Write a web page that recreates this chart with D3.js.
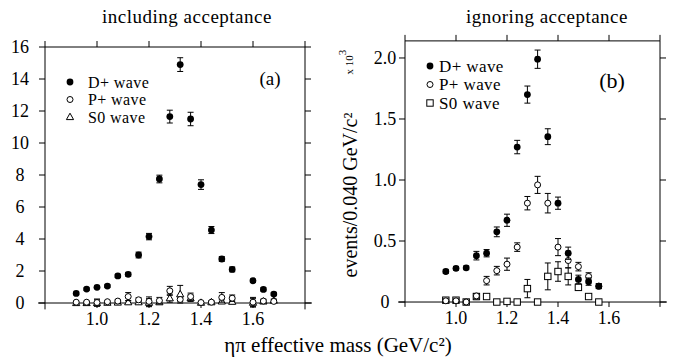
<!DOCTYPE html>
<html>
<head>
<meta charset="utf-8">
<script src="https://cdn.jsdelivr.net/npm/d3@7"></script>
<style>
  body { margin: 0; background: #fff; }
</style>
</head>
<body>
<svg id="chart" width="673" height="360" font-family="'Liberation Serif', 'DejaVu Serif', 'Times New Roman', serif"></svg>
<script>
// panel (a): including acceptance
const massA = [0.92, 0.96, 1.00, 1.04, 1.08, 1.12, 1.16, 1.20, 1.24, 1.28, 1.32, 1.36, 1.40, 1.44, 1.48, 1.52, 1.60, 1.64, 1.68];
const dWaveA = [0.60, 0.87, 0.98, 1.06, 1.69, 1.79, 3.00, 4.15, 7.75, 11.65, 14.90, 11.50, 7.40, 4.56, 2.75, 2.10, 1.39, 0.85, 0.56];
const dErrA = [0.08, 0.08, 0.08, 0.08, 0.10, 0.12, 0.18, 0.20, 0.24, 0.40, 0.43, 0.42, 0.30, 0.22, 0.15, 0.15, 0.10, 0.10, 0.10];
const pWaveA = [0.05, 0.05, 0.03, 0.08, 0.12, 0.40, 0.20, 0.10, 0.15, 0.76, 0.22, 0.40, 0.03, 0.05, 0.35, 0.30, 0.05, 0.12, 0.10];
const pErrA = [0.05, 0.05, 0.22, 0.05, 0.08, 0.25, 0.12, 0.28, 0.20, 0.28, 0.10, 0.22, 0.05, 0.08, 0.30, 0.20, 0.30, 0.12, 0.10];
const sWaveA = [0.00, 0.00, 0.00, 0.02, 0.03, 0.05, 0.05, 0.02, 0.05, 0.30, 0.55, 0.30, 0.02, 0.05, 0.10, 0.08, 0.02, 0.10, 0.15];
const sErrA = [0.03, 0.03, 0.20, 0.05, 0.05, 0.08, 0.08, 0.25, 0.10, 0.25, 0.55, 0.20, 0.05, 0.05, 0.10, 0.10, 0.25, 0.10, 0.10];

// panel (b): ignoring acceptance (x 10^3)
const massB = [0.96, 1.00, 1.04, 1.08, 1.12, 1.16, 1.20, 1.24, 1.28, 1.32, 1.36, 1.40, 1.44, 1.48, 1.52, 1.56];
const dWaveB = [0.25, 0.276, 0.28, 0.38, 0.40, 0.575, 0.67, 1.27, 1.70, 1.99, 1.355, 0.81, 0.40, 0.185, 0.167, 0.13];
const dErrB = [0.015, 0.015, 0.015, 0.035, 0.03, 0.04, 0.05, 0.055, 0.07, 0.075, 0.065, 0.05, 0.05, 0.035, 0.03, 0.02];
const pWaveB = [0.01, 0.01, 0.00, 0.05, 0.175, 0.257, 0.31, 0.45, 0.81, 0.96, 0.81, 0.45, 0.34, 0.29, 0.21, 0.13];
const pErrB = [0.015, 0.015, 0.01, 0.02, 0.035, 0.035, 0.05, 0.035, 0.055, 0.07, 0.08, 0.07, 0.06, 0.035, 0.03, 0.02];
const sWaveB = [0.015, 0.015, 0.00, 0.045, 0.045, 0.00, 0.005, 0.00, 0.11, 0.00, 0.21, 0.25, 0.21, 0.12, 0.045, 0.00];
const sErrB = [0.01, 0.01, 0.005, 0.025, 0.01, 0.005, 0.01, 0.005, 0.075, 0.005, 0.11, 0.08, 0.07, 0.02, 0.01, 0.005];

const xTicks = [0.8, 1.0, 1.2, 1.4, 1.6, 1.8];
const xLabelTicks = [1.0, 1.2, 1.4, 1.6];
const yTicksA = [0, 2, 4, 6, 8, 10, 12, 14, 16];
const yTicksB = [0, 0.5, 1.0, 1.5, 2.0];
const legendNames = ["D+ wave", "P+ wave", "S0 wave"];

const svg = d3.select("#chart");
const tick = 6;

const zip = (m, v, e) => m.map((x, i) => ({x: x, y: v[i], e: e[i]}));

const drawSymbol = (g, type, cx, cy) => {
    if (type === "filled") {
        g.append("circle").attr("cx", cx).attr("cy", cy).attr("r", 3.4)
            .attr("fill", "#000");
    } else if (type === "circle") {
        g.append("circle").attr("cx", cx).attr("cy", cy).attr("r", 3)
            .attr("fill", "#fff").attr("stroke", "#000").attr("stroke-width", 1);
    } else if (type === "square") {
        g.append("rect").attr("x", cx - 3.2).attr("y", cy - 3.2)
            .attr("width", 6.4).attr("height", 6.4)
            .attr("fill", "#fff").attr("stroke", "#000").attr("stroke-width", 1);
    } else {
        g.append("path")
            .attr("d", `M${cx},${cy - 3.8}L${cx + 3.6},${cy + 2.6}L${cx - 3.6},${cy + 2.6}Z`)
            .attr("fill", "#fff").attr("stroke", "#000").attr("stroke-width", 1);
    }
};

const addSeries = (g, data, x, y, type) => {
    const s = g.append("g");
    data.forEach(d => {
        const cx = x(d.x), y1 = y(d.y - d.e), y2 = y(d.y + d.e);
        s.append("line").attr("x1", cx).attr("x2", cx).attr("y1", y1).attr("y2", y2)
            .attr("stroke", "#000").attr("stroke-width", 1);
        [y1, y2].forEach(yy => s.append("line")
            .attr("x1", cx - 3).attr("x2", cx + 3).attr("y1", yy).attr("y2", yy)
            .attr("stroke", "#000").attr("stroke-width", 1));
    });
    data.forEach(d => drawSymbol(s, type, x(d.x), y(d.y)));
};

const drawPanel = (opt) => {
    const x = d3.scaleLinear().domain([0.8, 1.8]).range([opt.left, opt.right]);
    const y = d3.scaleLinear().domain(opt.yDomain).range(opt.yRange);
    const g = svg.append("g");
    const top = y(opt.yDomain[1]), bottom = y(opt.yDomain[0]);

    // frame (no bottom edge)
    g.append("path")
        .attr("d", `M${opt.left},${bottom}V${top}H${opt.right}V${bottom}`)
        .attr("fill", "none").attr("stroke", "#000").attr("stroke-width", 1);

    // zero line
    g.append("line").attr("x1", opt.left - 7).attr("x2", opt.right + 7)
        .attr("y1", y(0)).attr("y2", y(0)).attr("stroke", "#000").attr("stroke-width", 1);

    // ticks
    xTicks.forEach(t => g.append("line").attr("x1", x(t)).attr("x2", x(t))
        .attr("y1", top).attr("y2", top - tick).attr("stroke", "#000"));
    xLabelTicks.forEach(t => g.append("line").attr("x1", x(t)).attr("x2", x(t))
        .attr("y1", y(0)).attr("y2", y(0) + 5).attr("stroke", "#000"));
    opt.yTicks.forEach(t => {
        g.append("line").attr("x1", opt.left - tick).attr("x2", opt.left)
            .attr("y1", y(t)).attr("y2", y(t)).attr("stroke", "#000");
        g.append("line").attr("x1", opt.right).attr("x2", opt.right + tick)
            .attr("y1", y(t)).attr("y2", y(t)).attr("stroke", "#000");
        g.append("text").attr("x", opt.yLabelX).attr("y", y(t)).attr("dy", "0.35em")
            .attr("text-anchor", "middle").attr("font-size", 18)
            .text(opt.yFormat(t));
    });
    xLabelTicks.forEach(t => g.append("text").attr("x", x(t)).attr("y", y(0) + 22)
        .attr("text-anchor", "middle").attr("font-size", 18).text(d3.format(".1f")(t)));

    // title and panel tag
    g.append("text").attr("x", opt.titleX).attr("y", 23).attr("text-anchor", "middle")
        .attr("font-size", 19).attr("letter-spacing", 0.5).text(opt.title);
    g.append("text").attr("x", opt.tagX).attr("y", opt.tagY).attr("text-anchor", "middle")
        .attr("font-size", opt.tagSize).text(opt.tag);

    // data
    addSeries(g, zip(opt.mass, opt.s, opt.sErr), x, y, opt.sType);
    addSeries(g, zip(opt.mass, opt.p, opt.pErr), x, y, "circle");
    addSeries(g, zip(opt.mass, opt.d, opt.dErr), x, y, "filled");

    // legend
    const types = ["filled", "circle", opt.sType];
    legendNames.forEach((name, i) => {
        const ly = opt.legY + i * opt.legStep;
        drawSymbol(g, types[i], opt.legX, ly);
        g.append("text").attr("x", opt.legX + opt.legGap).attr("y", ly).attr("dy", "0.35em")
            .attr("font-size", opt.legSize).attr("letter-spacing", 0.4).text(name);
    });
};

drawPanel({
    left: 45, right: 305, yDomain: [-0.4, 16], yRange: [309.4, 47],
    yTicks: yTicksA, yFormat: d3.format("d"), yLabelX: 20,
    title: "including acceptance", titleX: 187, tag: "(a)", tagX: 270, tagY: 85, tagSize: 19,
    mass: massA, d: dWaveA, dErr: dErrA, p: pWaveA, pErr: pErrA, s: sWaveA, sErr: sErrA,
    sType: "triangle", legX: 70, legY: 82, legStep: 17.5, legSize: 16, legGap: 18
});

drawPanel({
    left: 405, right: 660, yDomain: [-0.04, 2.14], yRange: [306.9, 40.9],
    yTicks: yTicksB, yFormat: t => t === 0 ? "0" : d3.format(".1f")(t), yLabelX: 385,
    title: "ignoring acceptance", titleX: 547, tag: "(b)", tagX: 612, tagY: 88, tagSize: 22,
    mass: massB, d: dWaveB, dErr: dErrB, p: pWaveB, pErr: pErrB, s: sWaveB, sErr: sErrB,
    sType: "square", legX: 430, legY: 66, legStep: 18.5, legSize: 17, legGap: 9
});

// axis titles
svg.append("text").attr("transform", "translate(357,195) rotate(-90)")
    .attr("text-anchor", "middle").attr("font-size", 20).text("events/0.040 GeV/c²");
const mult = svg.append("text").attr("transform", "translate(353,62) rotate(-90)")
    .attr("text-anchor", "middle").attr("font-size", 11);
mult.append("tspan").text("x 10");
mult.append("tspan").attr("dy", -7).text("3");

svg.append("text").attr("x", 338).attr("y", 352).attr("text-anchor", "middle")
    .attr("font-size", 21).text("ηπ effective mass (GeV/c²)");
</script>
</body>
</html>
